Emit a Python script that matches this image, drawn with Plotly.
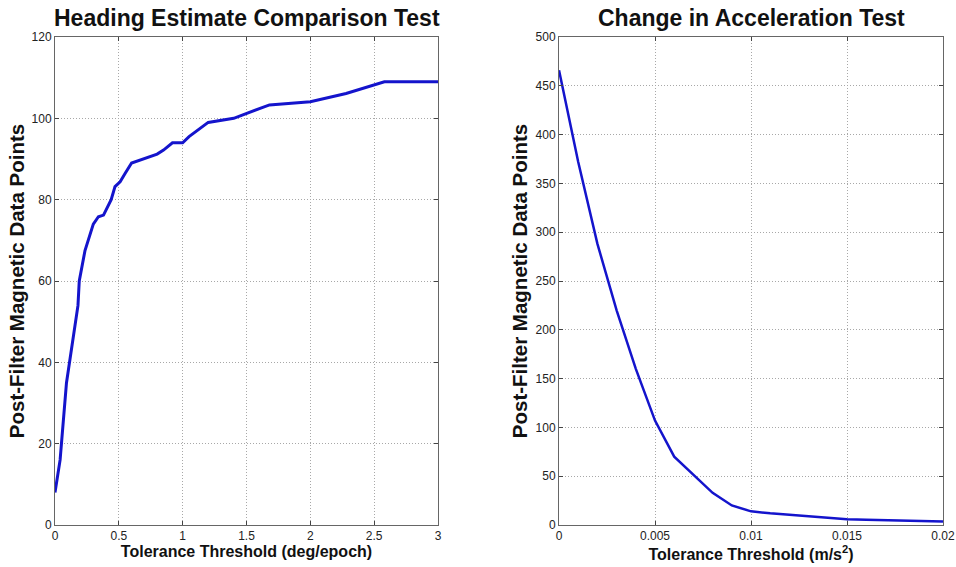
import plotly.graph_objects as go

# heading estimate comparison test
heading_tol = [0, 0.04, 0.09, 0.143, 0.18, 0.19, 0.21, 0.235, 0.30, 0.34, 0.38, 0.44, 0.47, 0.51,
               0.55, 0.60, 0.80, 0.85, 0.92, 1.0, 1.05, 1.2, 1.4, 1.68, 2.0, 2.28, 2.58, 3.0]
heading_pts = [8, 16, 35, 46, 54, 60, 63.5, 67.5, 74, 75.8, 76.2, 80, 83.2, 84.4,
               86.5, 89, 91.2, 92.2, 94, 94, 95.5, 99, 100, 103.3, 104.1, 106.1, 109, 109]

# change in acceleration test
accel_tol = [0, 0.001, 0.002, 0.003, 0.004, 0.005, 0.006, 0.007, 0.008, 0.009, 0.010,
             0.011, 0.012, 0.013, 0.014, 0.015, 0.016, 0.017, 0.018, 0.019, 0.020]
accel_pts = [466, 372, 288, 220, 160, 107, 70, 52, 33, 20, 14,
             12, 10.5, 9, 7.5, 6, 5.5, 5, 4.5, 4, 3.5]

blue = "#1414cc"
font = "Liberation Sans, Arial, sans-serif"

fig = go.Figure()
fig.add_trace(go.Scatter(x=heading_tol, y=heading_pts, mode="lines",
                         line=dict(color=blue, width=3), xaxis="x", yaxis="y"))
fig.add_trace(go.Scatter(x=accel_tol, y=accel_pts, mode="lines",
                         line=dict(color=blue, width=2.5), xaxis="x2", yaxis="y2"))

ax = dict(showline=True, linecolor="#666", linewidth=1, mirror="ticks",
          ticks="inside", ticklen=4, tickcolor="#444", automargin=False,
          showgrid=True, gridcolor="#a8a8a8", griddash="1px,2px", gridwidth=1,
          zeroline=False, tickfont=dict(family=font, size=12, color="#222"))
xtitle_font = dict(family=font, size=16, color="#111")
ytitle_font = dict(family=font, size=20.5, color="#111")

fig.update_layout(
    width=956, height=567,
    margin=dict(l=55, r=13, t=37, b=42),
    plot_bgcolor="white", paper_bgcolor="white",
    showlegend=False,
    font=dict(family=font),
    xaxis=dict(ax, domain=[0, 0.4313], range=[0, 3], tickvals=[0, 0.5, 1, 1.5, 2, 2.5, 3],
               ticktext=["0", "0.5", "1", "1.5", "2", "2.5", "3"],
               title=dict(text="<b>Tolerance Threshold (deg/epoch)</b>", font=xtitle_font, standoff=1)),
    yaxis=dict(ax, domain=[0, 1], range=[0, 120], dtick=20,
               title=dict(text="<b>Post-Filter Magnetic Data Points</b>", font=ytitle_font, standoff=1)),
    xaxis2=dict(ax, domain=[0.5676, 1], range=[0, 0.02], anchor="y2",
                tickvals=[0, 0.005, 0.01, 0.015, 0.02],
                ticktext=["0", "0.005", "0.01", "0.015", "0.02"],
                title=dict(text="<b>Tolerance Threshold (m/s<sup>2</sup>)</b>", font=xtitle_font, standoff=1)),
    yaxis2=dict(ax, domain=[0, 1], range=[0, 500], dtick=50, anchor="x2",
                title=dict(text="<b>Post-Filter Magnetic Data Points</b>", font=ytitle_font, standoff=2)),
    annotations=[
        dict(text="<b>Heading Estimate Comparison Test</b>", x=0.2157, y=1, xref="paper", yref="paper",
             xanchor="center", yanchor="middle", yshift=19, showarrow=False,
             font=dict(family=font, size=23, color="#111")),
        dict(text="<b>Change in Acceleration Test</b>", x=0.7838, y=1, xref="paper", yref="paper",
             xanchor="center", yanchor="middle", yshift=19, showarrow=False,
             font=dict(family=font, size=23, color="#111")),
    ],
)

# drop the default page margin so the figure sits at the window's corner
fig.write_html("out.html", config={"displayModeBar": False},
               post_script="document.body.style.margin='0';")
